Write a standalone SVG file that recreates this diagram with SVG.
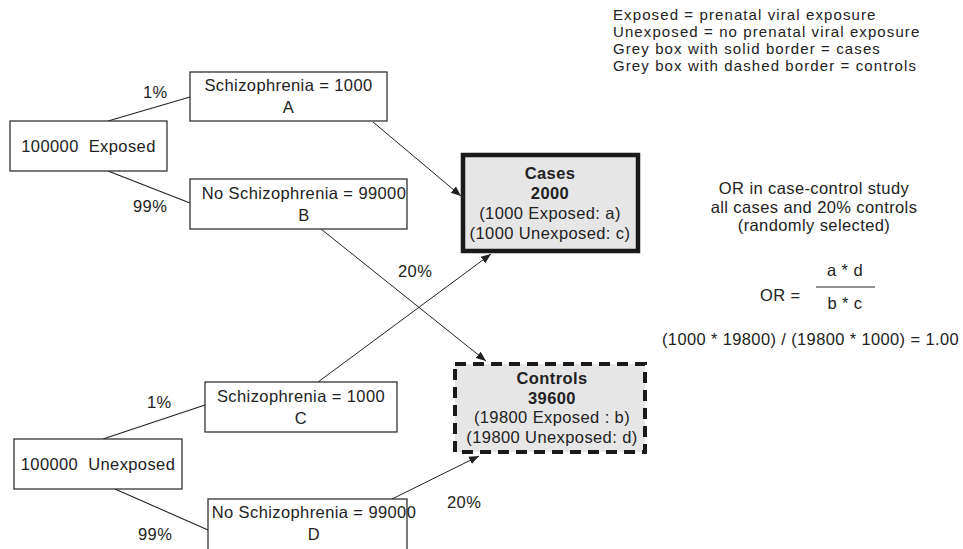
<svg xmlns="http://www.w3.org/2000/svg" width="963" height="549" viewBox="0 0 963 549">
<style>
text{font-family:"Liberation Sans",Arial,sans-serif;font-size:16.5px;fill:#222;letter-spacing:0.4px}
.c{text-anchor:middle}
.b{font-weight:bold}
.pre{white-space:pre}
.lg{font-size:15px;letter-spacing:1.1px}
.box{fill:#fff;stroke:#333;stroke-width:1.3}
.ln{stroke:#222;stroke-width:1.1;fill:none}
.ar{stroke:#222;stroke-width:1;fill:none;marker-end:url(#ah)}
</style>
<defs>
<marker id="ah" viewBox="0 0 10 10" refX="10" refY="5" markerWidth="10" markerHeight="10" markerUnits="userSpaceOnUse" orient="auto">
<path d="M0,1 L10,5 L0,9 z" fill="#222"/>
</marker>
</defs>
<g id="connectors">
<line class="ln" x1="108" y1="121" x2="190" y2="97"/>
<line class="ln" x1="108" y1="171" x2="190" y2="203"/>
<line class="ln" x1="103" y1="439" x2="205" y2="405"/>
<line class="ln" x1="115" y1="489" x2="208" y2="530"/>
<line class="ar" x1="373" y1="122" x2="461" y2="196"/>
<line class="ar" x1="321" y1="229" x2="486" y2="361"/>
<line class="ar" x1="318" y1="382" x2="491" y2="254"/>
<line class="ar" x1="392" y1="499" x2="479" y2="456"/>
<text x="143" y="98">1%</text>
<text x="133" y="212">99%</text>
<text x="147" y="408">1%</text>
<text x="138" y="540">99%</text>
<text x="398" y="277">20%</text>
<text x="447" y="508">20%</text>
</g>
<g id="exposed">
<rect class="box" x="10" y="121" width="157" height="50"/>
<text class="c pre" x="88.5" y="152" xml:space="preserve">100000  Exposed</text>
</g>
<g id="nodeA">
<rect class="box" x="190" y="72" width="197" height="49"/>
<text class="c" x="288.5" y="91">Schizophrenia = 1000</text>
<text class="c" x="288.5" y="113">A</text>
</g>
<g id="nodeB">
<rect class="box" x="190" y="179" width="217" height="50"/>
<text class="c" x="304" y="199">No Schizophrenia = 99000</text>
<text class="c" x="304" y="221">B</text>
</g>
<g id="unexposed">
<rect class="box" x="14" y="439" width="168" height="50"/>
<text class="c pre" x="98" y="470" xml:space="preserve">100000  Unexposed</text>
</g>
<g id="nodeC">
<rect class="box" x="205" y="382" width="192" height="50"/>
<text class="c" x="301" y="402">Schizophrenia = 1000</text>
<text class="c" x="301" y="424">C</text>
</g>
<g id="nodeD">
<rect class="box" x="208" y="499" width="199" height="52"/>
<text class="c" x="314" y="518">No Schizophrenia = 99000</text>
<text class="c" x="314" y="540">D</text>
</g>
<g id="cases">
<rect x="463" y="155" width="175" height="96" fill="#e6e6e6" stroke="#1a1a1a" stroke-width="4.5"/>
<text class="c b" x="550" y="179">Cases</text>
<text class="c b" x="550" y="199">2000</text>
<text class="c" x="550" y="219">(1000 Exposed: a)</text>
<text class="c" x="550" y="239">(1000 Unexposed: c)</text>
</g>
<g id="controls">
<rect x="455" y="364" width="190" height="88" fill="#e6e6e6" stroke="#1a1a1a" stroke-width="4" stroke-dasharray="11,7"/>
<text class="c b" x="552" y="384">Controls</text>
<text class="c b" x="552" y="404">39600</text>
<text class="c" x="552" y="423">(19800 Exposed : b)</text>
<text class="c" x="552" y="443">(19800 Unexposed: d)</text>
</g>
<g id="legend">
<text class="lg" x="613" y="20">Exposed = prenatal viral exposure</text>
<text class="lg" x="613" y="37">Unexposed = no prenatal viral exposure</text>
<text class="lg" x="613" y="54">Grey box with solid border = cases</text>
<text class="lg" x="613" y="71">Grey box with dashed border = controls</text>
</g>
<g id="formula">
<text class="c" x="814" y="194">OR in case-control study</text>
<text class="c" x="814" y="213">all cases and 20% controls</text>
<text class="c" x="814" y="231">(randomly selected)</text>
<text class="c" x="845" y="276">a * d</text>
<line x1="816" y1="287" x2="875" y2="287" stroke="#222" stroke-width="1.2"/>
<text class="c" x="845" y="309">b * c</text>
<text x="760" y="301">OR =</text>
<text x="662" y="345" textLength="297" lengthAdjust="spacingAndGlyphs">(1000 * 19800) / (19800 * 1000) = 1.00</text>
</g>
</svg>
